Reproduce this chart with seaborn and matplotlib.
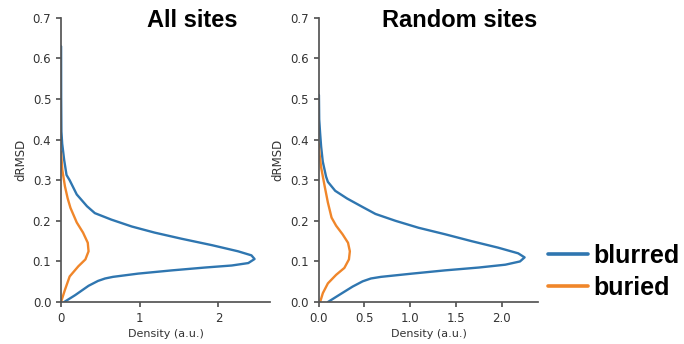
import matplotlib
matplotlib.use("Agg")
import matplotlib.pyplot as plt
import pandas as pd
import seaborn as sns

# (density, dRMSD) points
all_blurred_density = [0.04, 0.18, 0.35, 0.47, 0.56, 0.66, 0.98, 1.41, 1.83, 2.17, 2.38, 2.46, 2.42,
                       2.25, 1.92, 1.53, 1.19, 0.9, 0.64, 0.43, 0.33, 0.2, 0.11, 0.07, 0.04, 0.015,
                       0.005, 0.002, 0.001]
all_blurred_drmsd = [0.0, 0.017, 0.040, 0.052, 0.058, 0.062, 0.070, 0.078, 0.085, 0.090, 0.096, 0.106,
                     0.115, 0.125, 0.140, 0.156, 0.171, 0.186, 0.203, 0.219, 0.236, 0.265, 0.300,
                     0.313, 0.35, 0.39, 0.42, 0.50, 0.63]
all_buried_density = [0.0, 0.05, 0.11, 0.22, 0.31, 0.35, 0.34, 0.28, 0.2, 0.12, 0.085, 0.05, 0.017, 0.0]
all_buried_drmsd = [0.0, 0.030, 0.063, 0.088, 0.105, 0.125, 0.146, 0.171, 0.196, 0.232, 0.255, 0.285,
                    0.325, 0.37]

rand_blurred_density = [0.1, 0.22, 0.37, 0.48, 0.57, 0.68, 1.02, 1.38, 1.75, 2.04, 2.2, 2.25, 2.18,
                        1.96, 1.67, 1.38, 1.09, 0.84, 0.62, 0.48, 0.31, 0.18, 0.1, 0.08, 0.044, 0.026,
                        0.015, 0.005, 0.002]
rand_blurred_drmsd = [0.0, 0.017, 0.038, 0.051, 0.058, 0.062, 0.070, 0.078, 0.085, 0.092, 0.100, 0.110,
                      0.120, 0.134, 0.150, 0.167, 0.183, 0.200, 0.217, 0.234, 0.255, 0.274, 0.296,
                      0.309, 0.346, 0.383, 0.416, 0.45, 0.51]
rand_buried_density = [0.015, 0.045, 0.1, 0.19, 0.28, 0.33, 0.34, 0.32, 0.26, 0.19, 0.14, 0.1, 0.065,
                       0.025, 0.008, 0.0]
rand_buried_drmsd = [0.0, 0.022, 0.046, 0.067, 0.084, 0.105, 0.125, 0.146, 0.167, 0.188, 0.208, 0.245,
                     0.285, 0.333, 0.366, 0.39]

panel_titles = ["All sites", "Random sites"]
series_names = ["blurred", "buried"]
colors = {"blurred": "#2f76b0", "buried": "#f0862a"}


def make_frame(blur_d, blur_y, bur_d, bur_y):
    a = pd.DataFrame({"density": blur_d, "drmsd": blur_y, "kind": "blurred"})
    b = pd.DataFrame({"density": bur_d, "drmsd": bur_y, "kind": "buried"})
    return pd.concat([a, b], ignore_index=True)


frames = [
    make_frame(all_blurred_density, all_blurred_drmsd, all_buried_density, all_buried_drmsd),
    make_frame(rand_blurred_density, rand_blurred_drmsd, rand_buried_density, rand_buried_drmsd),
]

sns.set_theme(style="ticks", rc={
    "axes.edgecolor": "#555555",
    "xtick.color": "#555555",
    "ytick.color": "#555555",
    "xtick.labelcolor": "#333333",
    "ytick.labelcolor": "#333333",
    "axes.labelcolor": "#333333",
    "xtick.labelsize": 8.5,
    "ytick.labelsize": 8.5,
    "axes.labelsize": 8,
    "xtick.major.size": 3.5,
    "ytick.major.size": 3.5,
})
plt.rcParams["font.family"] = ["DejaVu Sans"]

fig = plt.figure(figsize=(6.84, 3.44), dpi=100)
ax1 = fig.add_axes([0.0892, 0.122, 0.306, 0.826])
ax2 = fig.add_axes([0.466, 0.122, 0.321, 0.826])

xlims = [2.66, 2.4]
xticks = [[0, 1, 2], [0.0, 0.5, 1.0, 1.5, 2.0]]
xticklabels = [["0", "1", "2"], ["0.0", "0.5", "1.0", "1.5", "2.0"]]
title_x = [0.842, 0.995]

for ax, df, xl, xt, xtl, title, tx in zip([ax1, ax2], frames, xlims, xticks, xticklabels,
                                           panel_titles, title_x):
    sns.lineplot(data=df, x="density", y="drmsd", hue="kind", hue_order=series_names,
                 palette=colors, sort=False, estimator=None, linewidth=1.7, ax=ax, legend=False)
    ax.set_xlim(0, xl)
    ax.set_ylim(0, 0.7)
    ax.set_xticks(xt)
    ax.set_xticklabels(xtl)
    ax.set_yticks([0.0, 0.1, 0.2, 0.3, 0.4, 0.5, 0.6, 0.7])
    ax.set_xlabel("Density (a.u.)", labelpad=3)
    ax.set_ylabel("dRMSD", labelpad=4, fontsize=8.5)
    ax.tick_params(pad=3.5)
    ax.text(tx, 0.99, title, transform=ax.transAxes, ha="right", va="center",
            fontsize=17, fontweight="bold", family=["Liberation Sans", "DejaVu Sans"], color="black")
    sns.despine(ax=ax)

handles = [plt.Line2D([], [], color=colors[k], linewidth=2.6) for k in series_names]
fig.legend(handles, series_names, loc="center left", bbox_to_anchor=(0.776, 0.21), frameon=False,
           prop={"family": ["Liberation Sans", "DejaVu Sans"], "weight": "bold", "size": 18},
           labelcolor="black", handlelength=1.6, handletextpad=0.22, labelspacing=0.3,
           borderpad=0.2)

fig.savefig("out.png", dpi=100)
